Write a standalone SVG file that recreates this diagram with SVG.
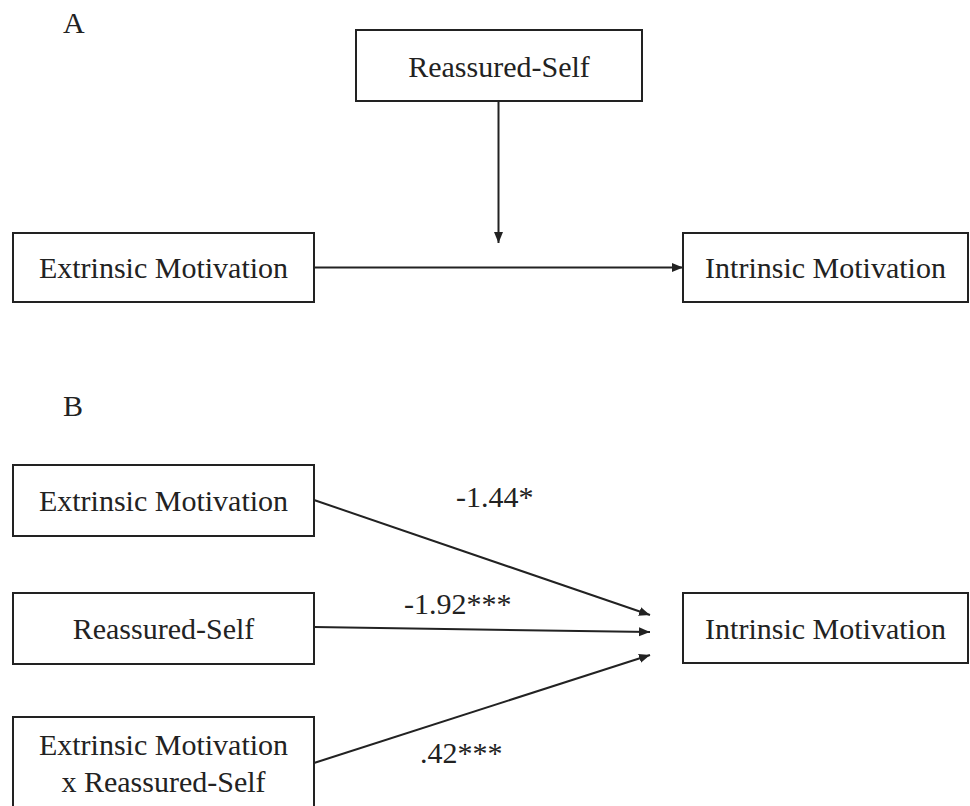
<svg xmlns="http://www.w3.org/2000/svg" width="970" height="806" viewBox="0 0 970 806">
<defs>
<style>
.box{fill:#fff;stroke:#222;stroke-width:2}
.t{font-family:"Liberation Serif","Times New Roman",serif;font-size:30px;fill:#222}
.c{text-anchor:middle}
.ln{stroke:#222;stroke-width:2;fill:none}
</style>
<marker id="ah" markerUnits="userSpaceOnUse" markerWidth="12" markerHeight="10" refX="11" refY="4.5" orient="auto">
<path d="M0,0 L11,4.5 L0,9 z" fill="#222"/>
</marker>
</defs>
<rect width="970" height="806" fill="#fff"/>
<text class="t" x="63" y="33">A</text>
<text class="t" x="63" y="416">B</text>
<g id="connectors">
<line class="ln" x1="498.5" y1="101" x2="498.5" y2="243" marker-end="url(#ah)"/>
<line class="ln" x1="314" y1="267.5" x2="683" y2="267.5" marker-end="url(#ah)"/>
<line class="ln" x1="314" y1="500" x2="650" y2="615" marker-end="url(#ah)"/>
<line class="ln" x1="314" y1="627" x2="650" y2="632" marker-end="url(#ah)"/>
<line class="ln" x1="314" y1="763" x2="650" y2="655" marker-end="url(#ah)"/>
<text class="t" x="456" y="507">-1.44*</text>
<text class="t" x="404" y="614">-1.92***</text>
<text class="t" x="420" y="763">.42***</text>
</g>
<g id="a-reassured">
<rect class="box" x="356" y="30" width="286" height="71"/>
<text class="t c" x="499" y="77">Reassured-Self</text>
</g>
<g id="a-extrinsic">
<rect class="box" x="13" y="233" width="301" height="69"/>
<text class="t c" x="163.5" y="278">Extrinsic Motivation</text>
</g>
<g id="a-intrinsic">
<rect class="box" x="683" y="233" width="285" height="69"/>
<text class="t c" x="825.5" y="278">Intrinsic Motivation</text>
</g>
<g id="b-extrinsic">
<rect class="box" x="13" y="465" width="301" height="71"/>
<text class="t c" x="163.5" y="511">Extrinsic Motivation</text>
</g>
<g id="b-reassured">
<rect class="box" x="13" y="593" width="301" height="71"/>
<text class="t c" x="163.5" y="639">Reassured-Self</text>
</g>
<g id="b-interaction">
<rect class="box" x="13" y="717" width="301" height="120"/>
<text class="t c" x="163.5" y="755">Extrinsic Motivation</text>
<text class="t c" x="163.5" y="792">x Reassured-Self</text>
</g>
<g id="b-intrinsic">
<rect class="box" x="683" y="593" width="285" height="70"/>
<text class="t c" x="825.5" y="639">Intrinsic Motivation</text>
</g>
</svg>
